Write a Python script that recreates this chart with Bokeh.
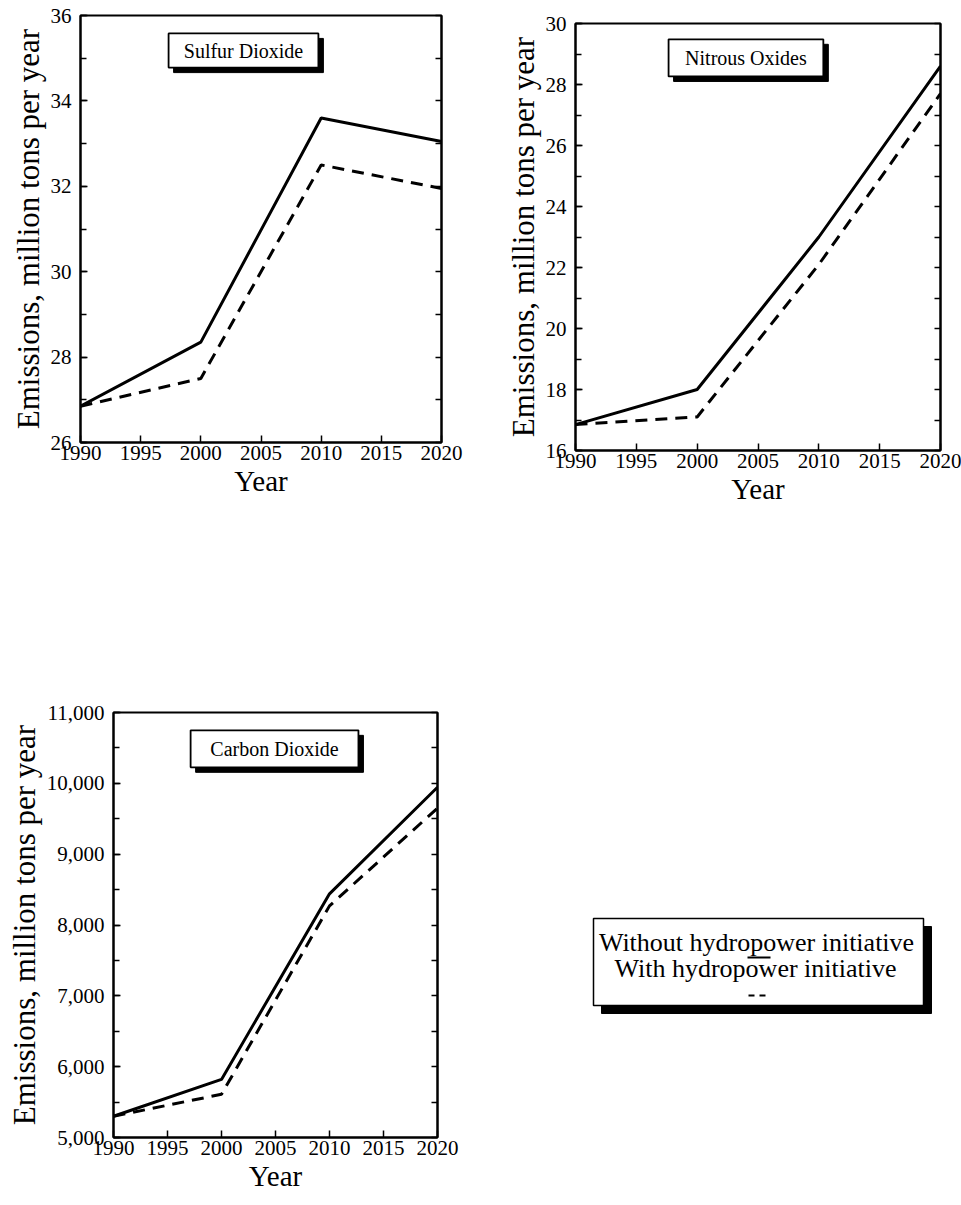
from bokeh.plotting import figure
from bokeh.models import (Range1d, FixedTicker, LinearAxis, CustomJSTickFormatter,
                          NumeralTickFormatter, Spacer)
from bokeh.layouts import row, column
from bokeh.core.properties import value
from bokeh.embed import file_html
from bokeh.resources import INLINE

# ---------------- data ----------------
years = [1990, 2000, 2010, 2020]

so2_without = [26.85, 28.35, 33.6, 33.05]
so2_with = [26.85, 27.5, 32.5, 31.95]

nox_without = [16.85, 18.0, 23.0, 28.6]
nox_with = [16.85, 17.1, 22.1, 27.7]

co2_without = [5300, 5820, 8440, 9945]
co2_with = [5300, 5610, 8270, 9650]

x_ticks = [1990, 1995, 2000, 2005, 2010, 2015, 2020]
so2_ticks = [26, 28, 30, 32, 34, 36]
so2_minor = list(range(26, 37))
nox_ticks = [16, 18, 20, 22, 24, 26, 28, 30]
nox_minor = list(range(16, 31))
co2_ticks = [5000, 6000, 7000, 8000, 9000, 10000, 11000]
co2_minor = list(range(5000, 11001, 500))

titles = ["Sulfur Dioxide", "Nitrous Oxides", "Carbon Dioxide"]
y_label = "Emissions, million tons per year"
x_label = "Year"
legend_labels = ["Without hydropower initiative", "With hydropower initiative"]

FONT = "Liberation Serif"


def make_panel(width, height, left, right, top, bottom, frame_w, frame_h,
               ylim, yticks, yminor, title, box, without, with_, comma=False):
    p = figure(width=width, height=height, output_backend="svg", toolbar_location=None,
               x_range=Range1d(1990, 2020), y_range=Range1d(*ylim),
               min_border_left=left, min_border_right=right,
               min_border_top=top, min_border_bottom=bottom)
    p.background_fill_color = "white"
    p.border_fill_color = "white"
    p.grid.visible = False
    p.outline_line_color = "black"
    p.outline_line_width = 2

    xa = p.xaxis[0]
    xa.ticker = FixedTicker(ticks=x_ticks)
    xa.axis_label = x_label
    ya = p.yaxis[0]
    ya.ticker = FixedTicker(ticks=yticks, minor_ticks=yminor)
    ya.axis_label = y_label
    if comma:
        ya.formatter = NumeralTickFormatter(format="0,0")
    for ax in (xa, ya):
        ax.axis_line_color = "black"
        ax.axis_line_width = 2
        ax.major_tick_in = 7
        ax.major_tick_out = 0
        ax.minor_tick_in = 6
        ax.minor_tick_out = 0
        ax.major_tick_line_width = 1.5
        ax.minor_tick_line_width = 1.5
        ax.major_label_text_font = FONT
        ax.major_label_text_font_size = "21px"
        ax.major_label_text_color = "black"
        ax.axis_label_text_font = FONT
        ax.axis_label_text_font_style = "normal"
        ax.axis_label_text_color = "black"
        ax.axis_label_standoff = 2
    xa.major_label_standoff = 3
    ya.major_label_standoff = 9
    xa.axis_label_text_font_size = "29px"
    ya.axis_label_text_font_size = "31px"

    ra = LinearAxis(ticker=FixedTicker(ticks=yminor),
                    formatter=CustomJSTickFormatter(code="return ''"),
                    major_tick_in=6, major_tick_out=0, major_label_standoff=0,
                    axis_line_color="black", axis_line_width=2,
                    major_tick_line_width=1.5)
    p.add_layout(ra, "right")

    p.line(years, without, line_color="black", line_width=3)
    p.line(years, with_, line_color="black", line_width=3, line_dash="12 8")

    # title box, placed as fractions of the frame
    fx0, fx1, fy0, fy1 = box
    y0, y1 = ylim
    span = y1 - y0
    bl = 1990 + fx0 * 30
    br = 1990 + fx1 * 30
    bt = y1 - fy0 * span
    bb = y1 - fy1 * span
    dx = 5.0 / frame_w * 30
    dy = 5.0 / frame_h * span
    p.quad(left=[bl + dx], right=[br + dx], top=[bt - dy], bottom=[bb - dy],
           fill_color="black", line_color="black")
    p.quad(left=[bl], right=[br], top=[bt], bottom=[bb],
           fill_color="white", line_color="black", line_width=1.8)
    p.text(x=[(bl + br) / 2], y=[(bt + bb) / 2], text=[title],
           text_font=value(FONT), text_font_size="20px", text_color="black",
           text_align="center", text_baseline="middle")
    return p


# Sulfur dioxide (top left): page x 0-488, frame 80-441, y 15-442
p1 = make_panel(488, 515, 80, 47, 15, 73, 361, 427, (26, 36), so2_ticks, so2_minor,
                titles[0], (0.244, 0.659, 0.042, 0.122), so2_without, so2_with)
# Nitrous oxides (top right): page x 488-961, frame 575-940, y 23-450
p2 = make_panel(473, 505, 87, 21, 15, 63, 365, 427, (16, 30), nox_ticks, nox_minor,
                titles[1], (0.255, 0.679, 0.037, 0.124), nox_without, nox_with)
# Carbon dioxide (bottom left): row starts at 515, frame 113-437, y 712-1137
p3 = make_panel(488, 688, 113, 51, 197, 66, 324, 425, (5000, 11000), co2_ticks, co2_minor,
                titles[2], (0.238, 0.756, 0.042, 0.129), co2_without, co2_with, comma=True)

# Legend panel: data units equal page pixels
p4 = figure(width=473, height=688, output_backend="svg", toolbar_location=None,
            x_range=Range1d(488, 961), y_range=Range1d(1137, 712),
            x_axis_location=None, y_axis_location=None,
            min_border_left=0, min_border_right=0, min_border_top=197, min_border_bottom=66)
p4.grid.visible = False
p4.outline_line_color = None
p4.background_fill_color = "white"
p4.border_fill_color = "white"

lb_l, lb_r, lb_t, lb_b = 593, 923, 918, 1005
sh = 8
p4.quad(left=[lb_l + sh], right=[lb_r + sh], top=[lb_t + sh], bottom=[lb_b + sh],
        fill_color="black", line_color="black")
p4.quad(left=[lb_l], right=[lb_r], top=[lb_t], bottom=[lb_b],
        fill_color="white", line_color="black", line_width=1.5)
p4.text(x=[756, 755], y=[942, 968], text=legend_labels,
        text_font=value(FONT), text_font_size="26px", text_color="black",
        text_align="center", text_baseline="alphabetic")
p4.line([747, 770], [957, 957], line_color="black", line_width=2)
p4.line([748, 768], [995, 995], line_color="black", line_width=2, line_dash="6 5")

layout = column(row(column(p1), column(Spacer(width=473, height=8), p2)), row(p3, p4))

with open("out.html", "w") as f:
    f.write(file_html(layout, INLINE))
